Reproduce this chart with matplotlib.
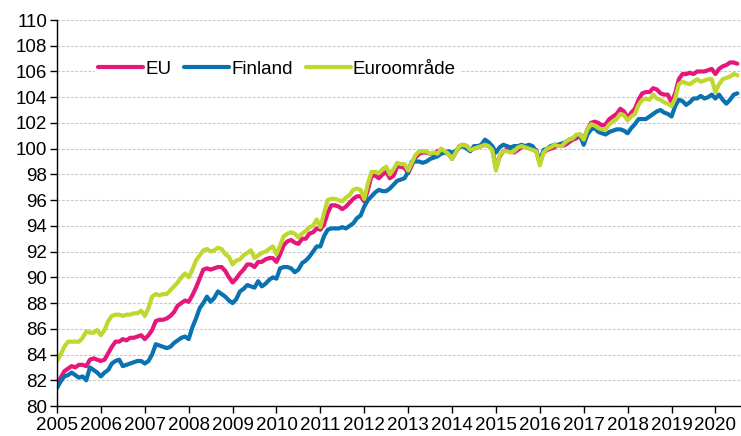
import numpy as np
import matplotlib
matplotlib.use("Agg")
import matplotlib.pyplot as plt

plt.rcParams['font.family'] = ['Liberation Sans', 'DejaVu Sans']

# Månadsvärden jan 2005 - jul 2020
years = [str(y) for y in range(2005, 2021)]

eu = [
    81.7, 82.2, 82.7, 82.9, 83.1, 83.0, 83.2, 83.2, 83.1, 83.6, 83.7, 83.6,   # 2005
    83.5, 83.6, 84.1, 84.6, 85.0, 85.0, 85.2, 85.1, 85.3, 85.3, 85.4, 85.5,   # 2006
    85.2, 85.5, 85.9, 86.6, 86.7, 86.7, 86.8, 87.0, 87.3, 87.8, 88.0, 88.2,   # 2007
    88.1, 88.6, 89.2, 89.9, 90.6, 90.7, 90.6, 90.7, 90.8, 90.8, 90.5, 90.0,   # 2008
    89.6, 89.9, 90.3, 90.6, 91.0, 91.0, 90.8, 91.2, 91.2, 91.4, 91.5, 91.5,   # 2009
    91.2, 91.8, 92.5, 92.8, 92.9, 92.7, 92.6, 93.0, 93.0, 93.4, 93.5, 93.8,   # 2010
    93.7, 94.1, 95.0, 95.6, 95.6, 95.5, 95.3, 95.5, 95.8, 96.1, 96.3, 96.3,   # 2011
    95.9, 96.8, 97.9, 97.9, 97.7, 98.0, 98.2, 97.7, 97.9, 98.6, 98.6, 98.5,   # 2012
    98.1, 98.7, 99.3, 99.6, 99.7, 99.7, 99.6, 99.5, 99.8, 99.9, 99.7, 99.6,   # 2013
    99.2, 99.7, 100.2, 100.3, 100.2, 99.9, 100.0, 100.1, 100.2, 100.3, 100.2, 100.0,  # 2014
    98.5, 99.4, 99.8, 99.9, 99.8, 99.7, 99.9, 100.1, 100.2, 100.1, 100.0, 99.9,  # 2015
    98.9, 99.7, 99.9, 100.0, 100.1, 100.3, 100.2, 100.3, 100.5, 100.7, 100.8, 101.1,  # 2016
    100.7, 101.5, 102.0, 102.1, 102.0, 101.8, 101.9, 102.3, 102.5, 102.7, 103.1, 102.9,  # 2017
    102.4, 102.8, 103.1, 103.8, 104.3, 104.4, 104.4, 104.7, 104.6, 104.3, 104.2, 104.2,  # 2018
    103.6, 104.3, 105.4, 105.8, 105.8, 105.9, 105.8, 106.0, 106.0, 106.0, 106.1, 106.2,  # 2019
    105.8, 106.2, 106.4, 106.5, 106.7, 106.7, 106.6,                                   # 2020
]

finland = [
    81.4, 81.9, 82.3, 82.4, 82.6, 82.4, 82.2, 82.3, 82.0, 83.0, 82.8, 82.6,
    82.3, 82.6, 82.8, 83.3, 83.5, 83.6, 83.1, 83.2, 83.3, 83.4, 83.5, 83.5,
    83.3, 83.5, 84.0, 84.8, 84.7, 84.6, 84.5, 84.6, 84.9, 85.1, 85.3, 85.4,
    85.2, 86.1, 86.8, 87.6, 88.0, 88.5, 88.1, 88.4, 88.9, 88.7, 88.5, 88.2,
    88.0, 88.3, 88.9, 89.1, 89.4, 89.3, 89.2, 89.7, 89.3, 89.5, 89.8, 90.0,
    89.9, 90.7, 90.8, 90.8, 90.7, 90.4, 90.6, 91.1, 91.3, 91.6, 92.0, 92.4,
    92.4, 93.2, 93.7, 93.8, 93.8, 93.8, 93.9, 93.8, 94.0, 94.2, 94.6, 94.8,
    95.5, 96.0, 96.3, 96.6, 96.8, 96.7, 96.7, 96.9, 97.2, 97.5, 97.6, 97.7,
    98.2, 99.0, 99.0, 99.0, 98.9, 99.0, 99.2, 99.3, 99.4, 99.6, 99.7, 99.8,
    99.7, 99.8, 100.1, 100.2, 100.0, 99.8, 100.2, 100.2, 100.3, 100.7, 100.5, 100.2,
    99.7, 100.1, 100.3, 100.2, 100.1, 100.2, 100.2, 100.3, 100.2, 100.3, 100.2, 99.8,
    99.0, 99.9, 100.0, 100.2, 100.3, 100.3, 100.4, 100.5, 100.7, 100.8, 101.0, 101.0,
    100.3, 101.1, 101.5, 101.6, 101.3, 101.2, 101.1, 101.3, 101.4, 101.5, 101.5, 101.4,
    101.2, 101.6, 101.9, 102.3, 102.3, 102.3, 102.5, 102.7, 102.9, 103.0, 102.8, 102.7,
    102.5, 103.3, 103.8, 103.7, 103.4, 103.6, 103.9, 103.9, 104.1, 103.9, 104.0, 104.2,
    103.9, 104.2, 103.8, 103.5, 103.8, 104.2, 104.3,
]

euroomrade = [
    83.5, 84.0, 84.6, 85.0, 85.0, 85.0, 85.0, 85.3, 85.8, 85.7, 85.7, 85.9,
    85.5, 85.9, 86.6, 87.0, 87.1, 87.1, 87.0, 87.1, 87.1, 87.2, 87.2, 87.4,
    87.0, 87.6, 88.5, 88.7, 88.6, 88.7, 88.7, 89.0, 89.3, 89.6, 90.0, 90.3,
    90.0, 90.6, 91.3, 91.7, 92.1, 92.2, 92.0, 92.1, 92.3, 92.2, 91.8, 91.6,
    91.0, 91.3, 91.4, 91.7, 91.9, 92.1, 91.5, 91.7, 91.9, 92.0, 92.2, 92.4,
    91.8, 92.5, 93.2, 93.4, 93.5, 93.4, 93.1, 93.4, 93.6, 93.9, 94.0, 94.5,
    93.9, 95.0, 96.0, 96.1, 96.1, 96.0, 95.9, 96.2, 96.4, 96.8, 96.9, 96.8,
    96.1, 97.3, 98.2, 98.2, 98.1, 98.4, 98.6, 98.0, 98.4, 98.9, 98.8, 98.8,
    98.3, 98.9, 99.5, 99.8, 99.8, 99.8, 99.6, 99.7, 99.6, 100.0, 99.8, 99.6,
    99.2, 99.7, 100.2, 100.3, 100.2, 99.9, 100.0, 100.1, 100.2, 100.3, 100.2, 99.9,
    98.3, 99.5, 99.8, 99.8, 99.7, 99.8, 100.1, 100.2, 100.1, 100.0, 99.9, 99.8,
    98.7, 99.7, 100.0, 100.1, 100.3, 100.2, 100.2, 100.5, 100.7, 100.8, 101.1, 101.1,
    100.7, 101.5, 101.9, 101.8, 101.6, 101.5, 101.5, 101.9, 102.1, 102.3, 102.7, 102.6,
    102.2, 102.5, 102.7, 103.4, 103.8, 103.9, 103.8, 104.2, 103.9, 103.8, 103.6, 103.5,
    103.3, 103.9, 105.0, 105.2, 105.1, 105.0, 105.2, 105.4, 105.2, 105.3, 105.4, 105.4,
    104.4, 105.0, 105.4, 105.5, 105.6, 105.8, 105.7,
]

months = np.arange(len(eu))

fig = plt.figure(figsize=(7.41, 4.36), dpi=100)
ax = fig.add_axes([57 / 741, 30 / 436, 1 - 57 / 741, 386 / 436])

lw = 3.0
ax.plot(months, eu, color='#e5177b', lw=lw, label='EU', solid_capstyle='round')
ax.plot(months, finland, color='#0a72b0', lw=lw, label='Finland', solid_capstyle='round')
ax.plot(months, euroomrade, color='#c0d72f', lw=lw, label='Euroområde', solid_capstyle='round')

ax.set_xlim(0, 187)
ax.set_ylim(80, 110)
ax.set_yticks(np.arange(80, 111, 2))
ax.set_xticks(np.arange(0, 181, 12))
ax.set_xticklabels(years)

ax.grid(axis='y', color='#c8c8c8', linestyle=(0, (2.5, 1.5)), lw=0.8)
ax.set_axisbelow(True)
for s in ['top', 'right']:
    ax.spines[s].set_visible(False)
for s in ['left', 'bottom']:
    ax.spines[s].set_color('black')
    ax.spines[s].set_linewidth(1.0)
ax.tick_params(axis='both', labelsize=13.5, colors='black', length=5, width=1, pad=2)
ax.tick_params(axis='x', pad=3)

leg = ax.legend(loc='upper left', bbox_to_anchor=(0.055, 0.905), ncol=3, frameon=True,
                fontsize=13.5, handlelength=2.4, handletextpad=0.1, columnspacing=0.7,
                borderpad=0.2, borderaxespad=0)
leg.get_frame().set_facecolor('white')
leg.get_frame().set_edgecolor('none')
leg.get_frame().set_alpha(1)

fig.savefig('out.png', dpi=100)
